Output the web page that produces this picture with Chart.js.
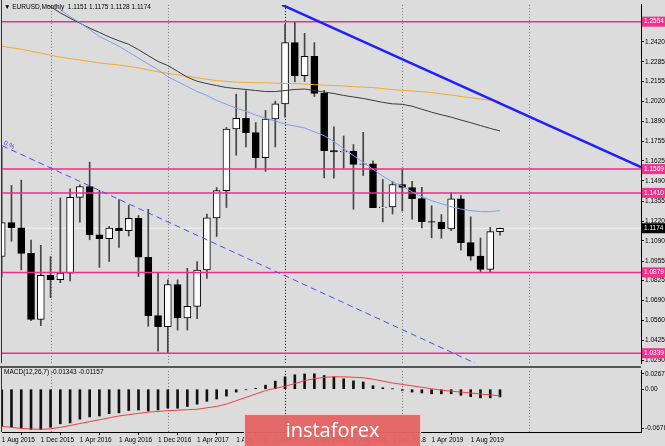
<!DOCTYPE html>
<html>
<head>
<meta charset="utf-8">
<script src="https://cdn.jsdelivr.net/npm/chart.js@4.4.0/dist/chart.umd.min.js"></script>
<style>
  html, body { margin: 0; padding: 0; background: #dcdcdc; }
  #wrap { position: relative; width: 665px; height: 446px; overflow: hidden; background: #dcdcdc; }
  #main { position: absolute; left: 0; top: 0; }
  #macd { position: absolute; left: 0; top: 366px; }
  .logo {
    position: absolute; left: 244px; top: 414px; width: 177px; height: 34px;
    background: rgba(228, 100, 100, 0.96); border: 1px solid #f2cccc; box-sizing: border-box;
    color: #fff; font: 20px 'Open Sans', sans-serif; text-align: center; line-height: 30px;
  }
</style>
</head>
<body>
<div id="wrap">
  <canvas id="main" width="665" height="368"></canvas>
  <canvas id="macd" width="665" height="80"></canvas>
  <div class="logo">instaforex</div>
</div>
<script>
// monthly bars, 1 Aug 2015 .. 1 Nov 2019
const opens  = [1.0985,1.1211,1.1177,1.1006,1.0564,1.0860,1.0830,1.0874,1.1380,1.1453,1.1130,1.1105,1.1175,1.1157,1.1240,1.0980,1.0590,1.0517,1.0798,1.0575,1.0652,1.0895,1.1243,1.1425,1.1837,1.1908,1.1813,1.1645,1.1904,1.2005,1.2414,1.2193,1.2323,1.2075,1.1693,1.1683,1.1690,1.1601,1.1605,1.1311,1.1316,1.1466,1.1446,1.1372,1.1218,1.1215,1.1169,1.1370,1.1078,1.0988,1.0899,1.1151];
const highs  = [1.1714,1.1460,1.1495,1.1095,1.1060,1.0985,1.1376,1.1438,1.1464,1.1616,1.1428,1.1186,1.1366,1.1327,1.1259,1.1300,1.0874,1.0829,1.0829,1.0906,1.0951,1.1268,1.1446,1.1847,1.2070,1.2092,1.1880,1.1961,1.2023,1.2537,1.2555,1.2476,1.2414,1.2096,1.1852,1.1790,1.1733,1.1815,1.1625,1.1500,1.1486,1.1570,1.1488,1.1448,1.1324,1.1265,1.1412,1.1393,1.1250,1.1109,1.1180,1.1175];
const lows   = [1.0848,1.1087,1.0896,1.0557,1.0523,1.0710,1.0810,1.0822,1.1215,1.1097,1.0912,1.0952,1.1045,1.1122,1.0852,1.0519,1.0352,1.0341,1.0494,1.0494,1.0569,1.0839,1.1119,1.1312,1.1662,1.1717,1.1575,1.1554,1.1717,1.1916,1.2152,1.2155,1.2054,1.1510,1.1509,1.1575,1.1301,1.1526,1.1335,1.1216,1.1269,1.1289,1.1234,1.1176,1.1110,1.1107,1.1158,1.1027,1.0960,1.0879,1.0879,1.1128];
const closes = [1.1211,1.1177,1.1006,1.0564,1.0860,1.0830,1.0874,1.1380,1.1453,1.1130,1.1105,1.1175,1.1157,1.1240,1.0980,1.0590,1.0517,1.0798,1.0575,1.0652,1.0895,1.1243,1.1425,1.1837,1.1908,1.1813,1.1645,1.1904,1.2005,1.2414,1.2193,1.2323,1.2075,1.1693,1.1683,1.1690,1.1601,1.1605,1.1311,1.1316,1.1466,1.1446,1.1372,1.1218,1.1215,1.1169,1.1370,1.1078,1.0988,1.0899,1.1151,1.1174];

// moving averages
const maBlue   = [null,null,null,null,null,1.2699,1.2633,1.2587,1.2547,1.2501,1.2455,1.2423,1.2390,1.2350,1.2311,1.2271,1.2232,1.2186,1.2153,1.2120,1.2087,1.2061,1.2028,1.2002,1.1976,1.1956,1.1930,1.1910,1.1890,1.1870,1.1857,1.1844,1.1818,1.1792,1.1752,1.1706,1.1660,1.1614,1.1568,1.1522,1.1483,1.1456,1.1417,1.1384,1.1358,1.1338,1.1318,1.1302,1.1292,1.1285,1.1285,1.1292];
const maBlack  = [null,null,null,null,1.2692,1.2653,1.2613,1.2577,1.2544,1.2511,1.2482,1.2452,1.2426,1.2403,1.2367,1.2327,1.2288,1.2261,1.2222,1.2183,1.2156,1.2140,1.2127,1.2114,1.2107,1.2101,1.2094,1.2087,1.2087,1.2094,1.2101,1.2104,1.2094,1.2084,1.2074,1.2061,1.2051,1.2041,1.2028,1.2015,1.2005,1.2002,1.1989,1.1969,1.1949,1.1932,1.1916,1.1897,1.1879,1.1860,1.1841,1.1824];
const maOrange = [1.2390,1.2380,1.2370,1.2357,1.2344,1.2330,1.2317,1.2307,1.2298,1.2288,1.2278,1.2271,1.2265,1.2255,1.2245,1.2232,1.2219,1.2209,1.2199,1.2189,1.2179,1.2170,1.2160,1.2155,1.2150,1.2148,1.2146,1.2145,1.2143,1.2141,1.2140,1.2137,1.2133,1.2130,1.2127,1.2124,1.2120,1.2117,1.2114,1.2107,1.2100,1.2095,1.2091,1.2086,1.2081,1.2071,1.2064,1.2054,1.2046,1.2037,1.2029,1.2022];

// MACD(12,26,7)
const macdMain   = [-0.0640,-0.0660,-0.0675,-0.0700,-0.0700,-0.0660,-0.0600,-0.0585,-0.0520,-0.0480,-0.0465,-0.0425,-0.0410,-0.0370,-0.0360,-0.0380,-0.0360,-0.0330,-0.0330,-0.0300,-0.0260,-0.0210,-0.0170,-0.0120,-0.0050,-0.0010,0.0015,0.0070,0.0140,0.0215,0.0250,0.0265,0.0268,0.0237,0.0215,0.0180,0.0145,0.0125,0.0060,0.0025,0.0005,-0.0020,-0.0050,-0.0065,-0.0080,-0.0080,-0.0080,-0.0105,-0.0130,-0.0150,-0.0150,-0.01343];
const macdSignal = [-0.0646,-0.0662,-0.0680,-0.0690,-0.0696,-0.0687,-0.0662,-0.0630,-0.0596,-0.0563,-0.0530,-0.0497,-0.0464,-0.0442,-0.0419,-0.0397,-0.0386,-0.0373,-0.0364,-0.0356,-0.0348,-0.0323,-0.0298,-0.0257,-0.0199,-0.0141,-0.0083,-0.0025,0.0017,0.0050,0.0099,0.0149,0.0182,0.0207,0.0215,0.0215,0.0207,0.0199,0.0174,0.0141,0.0108,0.0083,0.0058,0.0033,0.0008,-0.0017,-0.0033,-0.0050,-0.0066,-0.0083,-0.0099,-0.01157];

// axes
const priceTicks = [1.2420,1.2285,1.2155,1.2020,1.1890,1.1755,1.1625,1.1490,1.1355,1.1220,1.1090,1.0955,1.0825,1.0690,1.0560,1.0425,1.0290];
const macdTicks = [0.02679, 0, -0.06762];
const xLabels = ['1 Aug 2015','1 Dec 2015','1 Apr 2016','1 Aug 2016','1 Dec 2016','1 Apr 2017','1 Aug 2017','1 Dec 2017','1 Apr 2018','1 Aug 2018','1 Dec 2018','1 Apr 2019','1 Aug 2019'];
const gridBars = [5, 17, 29, 41, 54];

// drawn objects
const levels = [1.2554, 1.1569, 1.1410, 1.0879, 1.0339];
const trendLine = [[28.69, 1.2666], [65.43, 1.1582]];
const channelLine = [[0.03, 1.1726], [48.44, 1.0273]];

const xMin = 0.03, xMax = 65.43;
const FONT = "'Liberation Sans', 'DejaVu Sans', sans-serif";
const bull = i => closes[i] >= opens[i];
const pts = arr => arr.map((v, i) => ({x: i, y: v}));

const vGrid = {
  id: 'vGrid',
  beforeDatasetsDraw(chart) {
    const {ctx, chartArea: a, scales: {x}} = chart;
    ctx.save();
    ctx.lineWidth = 1;
    ctx.setLineDash([1, 2]);
    gridBars.forEach(b => {
      const px = Math.round(x.getPixelForValue(b)) + 0.5;
      ctx.strokeStyle = b === 29 ? '#000' : '#777';
      ctx.beginPath(); ctx.moveTo(px, a.top); ctx.lineTo(px, a.bottom); ctx.stroke();
    });
    ctx.restore();
  }
};

const frame = {
  id: 'frame',
  afterDraw(chart) {
    const {ctx, chartArea: a} = chart;
    ctx.save();
    ctx.strokeStyle = '#333';
    ctx.lineWidth = 1;
    ctx.beginPath(); ctx.moveTo(1.5, 0); ctx.lineTo(1.5, a.bottom); ctx.stroke();
    ctx.restore();
  }
};

const mainText = {
  id: 'mainText',
  afterDraw(chart) {
    const {ctx, scales: {y}} = chart;
    ctx.save();
    ctx.font = '6.5px ' + FONT;
    ctx.textBaseline = 'middle';
    ctx.fillStyle = '#000';
    ctx.fillText('\u25BC EURUSD,Monthly  ' + [opens[51], highs[51], lows[51], closes[51]].map(v => v.toFixed(4)).join(' '), 4, 7);
    // level labels on the price axis
    levels.forEach(l => {
      const py = y.getPixelForValue(l);
      ctx.fillStyle = '#f2308e';
      ctx.fillRect(642, py - 5, 23, 10);
      ctx.fillStyle = '#fff';
      ctx.fillText(l.toFixed(4), 644, py);
    });
    const cy = y.getPixelForValue(closes[51]);
    ctx.fillStyle = '#000';
    ctx.fillRect(642, cy - 5, 23, 10);
    ctx.fillStyle = '#fff';
    ctx.fillText(closes[51].toFixed(4), 644, cy);
    // channel label
    const x = chart.scales.x;
    ctx.save();
    ctx.translate(x.getPixelForValue(channelLine[0][0]) + 2, y.getPixelForValue(channelLine[0][1]) - 3);
    ctx.rotate(0.44);
    ctx.fillStyle = '#3a3aff';
    ctx.fillText('0.%', 0, 0);
    ctx.restore();
    ctx.restore();
  }
};

const lineDs = (data, color, width, extra) => Object.assign({
  type: 'line', data, borderColor: color, borderWidth: width, pointRadius: 0,
  tension: 0, fill: false, spanGaps: false, order: 0
}, extra || {});

new Chart(document.getElementById('main'), {
  type: 'bar',
  data: {
    datasets: [
      lineDs(trendLine.map(p => ({x: p[0], y: p[1]})), '#1f1fff', 2.5),
      lineDs(channelLine.map(p => ({x: p[0], y: p[1]})), '#4b4bff', 1, {borderDash: [6, 4]}),
      lineDs(pts(maBlue), '#7d9df2', 1),
      lineDs(pts(maBlack), '#3a3a3a', 1),
      lineDs(pts(maOrange), '#f4a82e', 1),
      ...levels.map(l => lineDs([{x: xMin, y: l}, {x: xMax, y: l}], '#e9318b', 1.5, {order: 1})),
      lineDs([{x: xMin, y: closes[51]}, {x: xMax, y: closes[51]}], 'rgba(250,250,250,0.8)', 1, {order: 5}),
      {
        type: 'bar', order: 2, grouped: false, barThickness: 7,
        data: opens.map((o, i) => ({x: i, y: [o, closes[i]]})),
        backgroundColor: ctx => bull(ctx.dataIndex) ? '#fff' : '#000',
        borderColor: '#000', borderWidth: 1, borderSkipped: false
      },
      {
        type: 'bar', order: 3, grouped: false, barThickness: 1,
        data: lows.map((l, i) => ({x: i, y: [l, highs[i]]})),
        backgroundColor: '#444', borderWidth: 0
      }
    ]
  },
  options: {
    responsive: false, animation: false,
    layout: {padding: {left: 2, top: 2, right: 0, bottom: 2}},
    plugins: {legend: {display: false}, tooltip: {enabled: false}},
    scales: {
      x: {type: 'linear', min: xMin, max: xMax, display: false, offset: false},
      y: {
        position: 'right', min: 1.0273, max: 1.2666,
        afterFit: s => { s.width = 24; },
        afterBuildTicks: s => { s.ticks = priceTicks.map(v => ({value: v})); },
        ticks: {font: {size: 6.5, family: FONT}, color: '#000', padding: 1, autoSkip: false, callback: v => v.toFixed(4)},
        grid: {drawOnChartArea: false, drawTicks: true, tickLength: 3, color: '#000'},
        border: {display: true, color: '#000'}
      }
    }
  },
  plugins: [vGrid, frame, mainText]
});

const macdText = {
  id: 'macdText',
  afterDraw(chart) {
    const {ctx, chartArea: a} = chart;
    ctx.save();
    ctx.fillStyle = '#555';
    ctx.fillRect(0, 0, a.right, 2);
    ctx.font = '6.5px ' + FONT;
    ctx.textBaseline = 'middle';
    ctx.fillStyle = '#000';
    ctx.fillText('MACD(12,26,7) ' + macdMain[51].toFixed(5) + ' ' + macdSignal[51].toFixed(5), 4, 6);
    ctx.restore();
  }
};

new Chart(document.getElementById('macd'), {
  type: 'bar',
  data: {
    datasets: [
      lineDs(pts(macdSignal), '#f04040', 1),
      {
        type: 'bar', order: 2, grouped: false, barThickness: 2,
        data: pts(macdMain), backgroundColor: '#111', borderWidth: 0
      }
    ]
  },
  options: {
    responsive: false, animation: false,
    layout: {padding: {left: 2, top: 2, right: 0, bottom: 0}},
    plugins: {legend: {display: false}, tooltip: {enabled: false}},
    scales: {
      x: {
        type: 'linear', min: xMin, max: xMax, offset: false,
        afterFit: s => { s.height = 14; },
        afterBuildTicks: s => { s.ticks = xLabels.map((t, k) => ({value: k * 4})); },
        ticks: {align: 'start', font: {size: 6.5, family: FONT}, color: '#000', padding: 1, autoSkip: false, maxRotation: 0, callback: (v, k) => xLabels[k]},
        grid: {drawOnChartArea: false, drawTicks: true, tickLength: 3, color: '#000'},
        border: {display: true, color: '#000'}
      },
      y: {
        position: 'right', min: -0.07424, max: 0.03176,
        afterFit: s => { s.width = 24; },
        afterBuildTicks: s => { s.ticks = macdTicks.map(v => ({value: v})); },
        ticks: {font: {size: 6.5, family: FONT}, color: '#000', padding: 1, autoSkip: false, callback: v => v === 0 ? '0.00' : v.toFixed(5)},
        grid: {drawOnChartArea: false, drawTicks: true, tickLength: 3, color: '#000'},
        border: {display: true, color: '#000'}
      }
    }
  },
  plugins: [vGrid, frame, macdText]
});
</script>
</body>
</html>
